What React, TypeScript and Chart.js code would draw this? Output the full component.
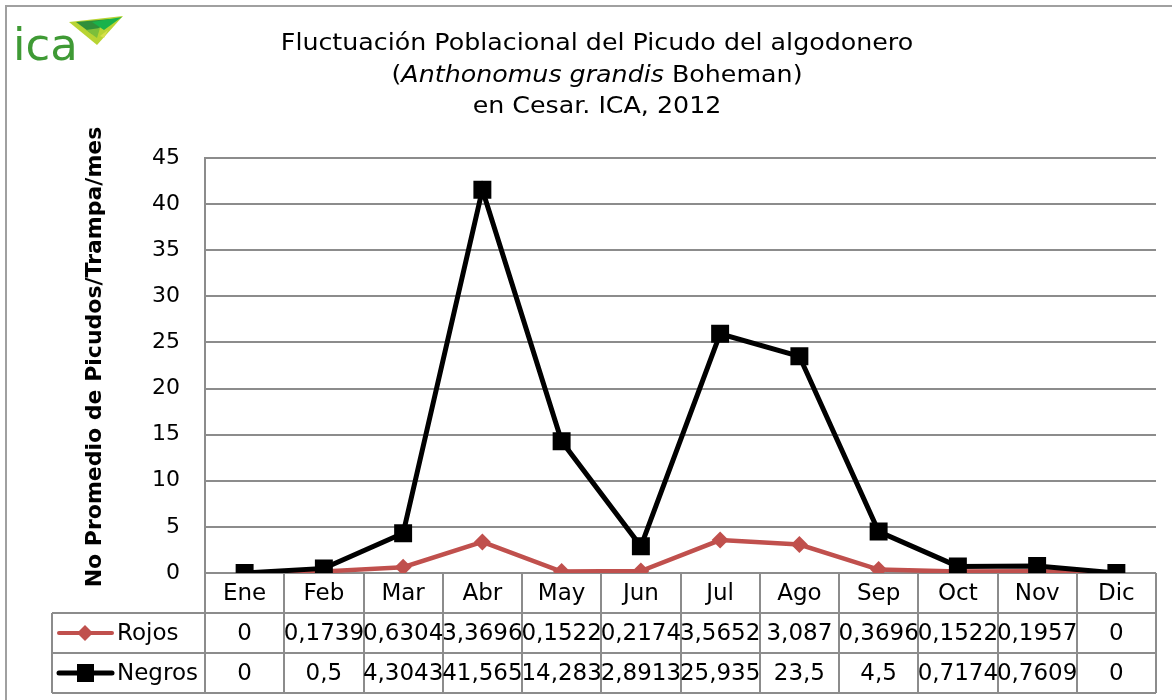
import React, { useEffect, useRef } from "react";
import { Chart, registerables } from "chart.js";

Chart.register(...registerables);

const months = ["Ene", "Feb", "Mar", "Abr", "May", "Jun", "Jul", "Ago", "Sep", "Oct", "Nov", "Dic"];
const rojos = [0, 0.1739, 0.6304, 3.3696, 0.1522, 0.2174, 3.5652, 3.087, 0.3696, 0.1522, 0.1957, 0];
const negros = [0, 0.5, 4.3043, 41.565, 14.283, 2.8913, 25.935, 23.5, 4.5, 0.7174, 0.7609, 0];
const seriesNames = ["Rojos", "Negros"];
const titleLines = ["Fluctuación Poblacional del Picudo del algodonero", "en Cesar. ICA, 2012"];
const titleItalic = "Anthonomus grandis";
const titleAfterItalic = " Boheman)";
const yTitle = "No Promedio de Picudos/Trampa/mes";
const yMax = 45;
const yStep = 5;

const FONT = "'DejaVu Sans', sans-serif";
const RED = "#C0504D";
const BLACK = "#000000";
const GRID = "#8c8c8c";

const fmt = (v: number) => String(v).replace(".", ",");

export default function App() {
  const ref = useRef<HTMLCanvasElement | null>(null);

  useEffect(() => {
    document.body.style.margin = "0";
    const canvas = ref.current!;
    const TABLE_ROW = 40;

    const overlay = {
      id: "overlay",
      afterDraw(chart: any) {
        const ctx = chart.ctx as CanvasRenderingContext2D;
        const area = chart.chartArea;
        const xs = chart.scales.x;
        const n = months.length;
        const colW = (area.right - area.left) / n;
        const top = area.bottom;
        const legLeft = 52;
        ctx.save();

        // outer border (left/top)
        ctx.strokeStyle = "#a0a0a0";
        ctx.lineWidth = 2;
        ctx.beginPath();
        ctx.moveTo(6, 700);
        ctx.lineTo(6, 6);
        ctx.lineTo(1172, 6);
        ctx.stroke();

        // table grid
        ctx.strokeStyle = GRID;
        ctx.lineWidth = 2;
        ctx.beginPath();
        for (let i = 0; i <= n; i++) {
          const x = Math.round(area.left + i * colW);
          ctx.moveTo(x, top);
          ctx.lineTo(x, top + TABLE_ROW * 3);
        }
        for (let r = 1; r <= 3; r++) {
          const y = top + r * TABLE_ROW;
          ctx.moveTo(legLeft, y);
          ctx.lineTo(area.right, y);
        }
        ctx.moveTo(legLeft, top + TABLE_ROW);
        ctx.lineTo(legLeft, top + TABLE_ROW * 3);
        ctx.stroke();

        // table text
        ctx.fillStyle = "#000";
        ctx.font = `23px ${FONT}`;
        ctx.textAlign = "center";
        ctx.textBaseline = "middle";
        const rows = [rojos, negros];
        for (let i = 0; i < n; i++) {
          const cx = xs.getPixelForValue(i);
          ctx.fillText(months[i], cx, top + TABLE_ROW / 2 + 1);
          rows.forEach((row, r) => {
            ctx.fillText(fmt(row[i]), cx, top + TABLE_ROW * (r + 1.5) + 1);
          });
        }

        // legend keys
        const colors = [RED, BLACK];
        seriesNames.forEach((name, r) => {
          const y = top + TABLE_ROW * (r + 1.5);
          ctx.strokeStyle = colors[r];
          ctx.lineWidth = r === 0 ? 4 : 5;
          ctx.lineCap = "round";
          ctx.beginPath();
          ctx.moveTo(59, y);
          ctx.lineTo(112, y);
          ctx.stroke();
          ctx.fillStyle = colors[r];
          ctx.beginPath();
          if (r === 0) {
            ctx.moveTo(85, y - 8);
            ctx.lineTo(93, y);
            ctx.lineTo(85, y + 8);
            ctx.lineTo(77, y);
          } else {
            ctx.rect(77, y - 9, 17, 18);
          }
          ctx.fill();
          ctx.fillStyle = "#000";
          ctx.textAlign = "left";
          ctx.font = `23px ${FONT}`;
          ctx.fillText(name, 117, y + 1);
        });

        // title (slightly widened to match reference proportions)
        const SX = 1.077;
        const TF = 23.5;
        ctx.save();
        ctx.scale(SX, 1);
        ctx.textAlign = "center";
        ctx.textBaseline = "middle";
        ctx.font = `${TF}px ${FONT}`;
        const tcx = 597 / SX;
        ctx.fillText(titleLines[0], tcx, 44);
        ctx.fillText(titleLines[1], tcx, 107);
        const p1 = "(";
        const p2 = titleItalic;
        const p3 = titleAfterItalic;
        const w1 = ctx.measureText(p1).width;
        const w3 = ctx.measureText(p3).width;
        ctx.font = `italic ${TF}px ${FONT}`;
        const w2 = ctx.measureText(p2).width;
        const x0 = tcx - (w1 + w2 + w3) / 2;
        ctx.textAlign = "left";
        ctx.font = `${TF}px ${FONT}`;
        ctx.fillText(p1, x0, 76);
        ctx.font = `italic ${TF}px ${FONT}`;
        ctx.fillText(p2, x0 + w1, 76);
        ctx.font = `${TF}px ${FONT}`;
        ctx.fillText(p3, x0 + w1 + w2, 76);
        ctx.restore();

        // y title
        ctx.save();
        ctx.translate(95, 357);
        ctx.rotate(-Math.PI / 2);
        ctx.textAlign = "center";
        ctx.textBaseline = "middle";
        ctx.fillStyle = "#000";
        ctx.font = `bold 22px ${FONT}`;
        ctx.fillText(yTitle, 0, 0);
        ctx.restore();

        // logo
        ctx.fillStyle = "#3f9a35";
        ctx.font = `45px ${FONT}`;
        ctx.textAlign = "left";
        ctx.textBaseline = "alphabetic";
        ctx.fillText("ica", 13, 60);
        const tri = (pts: number[][], c: string) => {
          ctx.fillStyle = c;
          ctx.beginPath();
          ctx.moveTo(pts[0][0], pts[0][1]);
          for (let k = 1; k < pts.length; k++) ctx.lineTo(pts[k][0], pts[k][1]);
          ctx.closePath();
          ctx.fill();
        };
        tri([[69, 22], [123, 16], [97, 45]], "#b8d433");
        tri([[76, 22], [110, 19], [92, 34]], "#2f8f3a");
        tri([[92, 22], [122, 17], [104, 30]], "#19b24b");
        tri([[86, 30], [100, 28], [97, 38]], "#7cbf3a");
        tri([[100, 36], [108, 30], [104, 38]], "#d6e04a");
        ctx.restore();
      },
    };

    const chart = new Chart(canvas, {
      type: "line",
      data: {
        labels: months,
        datasets: [
          {
            label: seriesNames[0],
            data: rojos,
            borderColor: RED,
            backgroundColor: RED,
            borderWidth: 4.5,
            pointStyle: "rectRot",
            pointRadius: 8.5,
            pointBorderWidth: 0,
            order: 1,
          },
          {
            label: seriesNames[1],
            data: negros,
            borderColor: BLACK,
            backgroundColor: BLACK,
            borderWidth: 5,
            pointStyle: "rect",
            pointRadius: 12.7,
            pointBorderWidth: 0,
            order: 0,
          },
        ],
      },
      options: {
        animation: false,
        responsive: false,
        devicePixelRatio: 1,
        layout: { padding: { left: 0, top: 158, right: 16, bottom: 127 } },
        plugins: { legend: { display: false }, tooltip: { enabled: false }, title: { display: false } },
        scales: {
          x: {
            type: "category",
            offset: true,
            display: false,
            grid: { display: false },
          },
          y: {
            min: 0,
            max: yMax,
            afterFit: (s: any) => {
              s.width = 205;
            },
            ticks: {
              stepSize: yStep,
              padding: 25,
              color: "#000",
              font: { family: "DejaVu Sans", size: 22 },
            },
            grid: { color: GRID, lineWidth: 2, drawTicks: false },
            border: { color: GRID, width: 2 },
          },
        },
      },
      plugins: [overlay],
    });
    return () => chart.destroy();
  }, []);

  return (
    <div style={{ width: 1172, height: 700, background: "#fff" }}>
      <canvas ref={ref} width={1172} height={700} style={{ display: "block" }} />
    </div>
  );
}
